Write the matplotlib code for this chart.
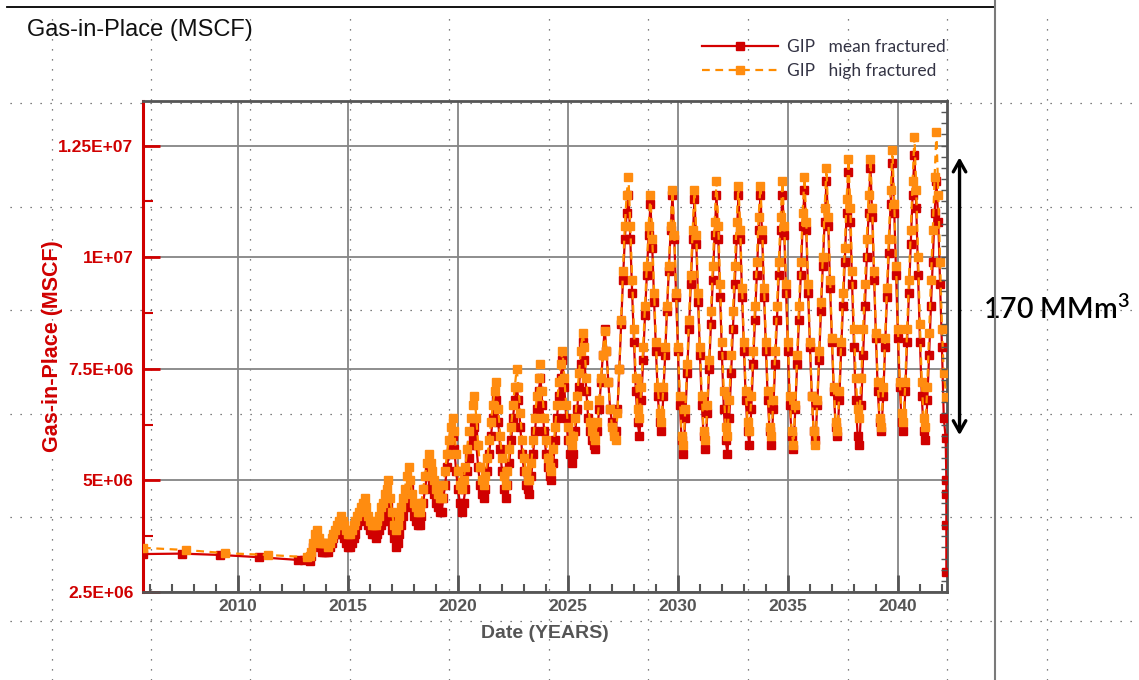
import numpy as np
import matplotlib
matplotlib.use('Agg')
import matplotlib.pyplot as plt
from matplotlib.lines import Line2D
from matplotlib.ticker import MultipleLocator, FuncFormatter

plt.rcParams['font.family'] = ['Liberation Sans', 'DejaVu Sans']
plt.rcParams['font.weight'] = 'bold'

# gas in place, million MSCF, decimal years
# sparse start of both runs
mean_early_t = [2005.68, 2007.45, 2009.18, 2010.95, 2012.73, 2013.0]
mean_early_v = [3.35, 3.36, 3.33, 3.28, 3.22, 3.21]
high_early_t = [2005.68, 2007.64, 2009.41, 2011.36, 2013.14]
high_early_v = [3.49, 3.44, 3.37, 3.33, 3.28]

# monthly values from Apr 2013 to Feb 2042
monthly_start = 2013.25
mean_monthly = [
    3.2, 3.3, 3.5, 3.6, 3.7, 3.6, 3.5, 3.4, 3.4,
    3.4, 3.4, 3.5, 3.6, 3.7, 3.8, 3.8, 3.9, 3.9, 3.8, 3.7, 3.6,
    3.5, 3.5, 3.6, 3.7, 3.8, 4.0, 4.1, 4.2, 4.3, 4.4, 4.2, 4.0,
    3.9, 3.8, 3.8, 3.7, 3.8, 3.9, 4.0, 4.1, 4.2, 4.3, 4.4, 4.1,
    3.9, 3.7, 3.5, 3.6, 3.8, 4.0, 4.2, 4.4, 4.6, 4.8, 4.6, 4.4,
    4.2, 4.1, 4.0, 4.0, 4.2, 4.5, 4.8, 5.1, 5.3, 5.1, 4.9, 4.7,
    4.5, 4.4, 4.3, 4.3, 4.6, 4.9, 5.3, 5.6, 5.8, 6.0, 5.7, 5.2,
    4.8, 4.5, 4.3, 4.5, 4.8, 5.2, 5.5, 5.8, 6.0, 6.2, 5.8, 5.3,
    4.9, 4.7, 4.6, 4.8, 5.2, 5.6, 6.0, 6.4, 6.7, 6.8, 6.3, 5.7,
    5.2, 4.8, 4.6, 4.9, 5.4, 5.9, 6.4, 6.8, 7.1, 6.8, 6.2, 5.6,
    5.2, 4.9, 4.8, 4.7, 5.1, 5.6, 6.1, 6.6, 7.0, 7.3, 6.7, 6.1,
    5.6, 5.3, 5.1, 5.0, 5.4, 5.9, 6.4, 6.9, 7.3, 7.7, 7.1, 6.4,
    5.9, 5.6, 5.4, 5.6, 6.1, 6.6, 7.1, 7.6, 8.1, 7.7, 7.0, 6.4,
    6.1, 5.9, 5.8, 5.7, 6.1, 6.6, 7.2, 7.8, 8.4, 7.9, 7.2, 6.6,
    6.3, 6.1, 6.1, 6.6, 7.5, 8.5, 9.5, 10.4, 11.0, 11.4, 10.4, 9.2,
    8.1, 7.0, 6.3, 6.0, 6.8, 7.7, 8.7, 9.6, 10.5, 11.2, 10.2, 9.0,
    7.9, 6.9, 6.3, 6.1, 6.9, 7.8, 8.8, 9.7, 10.6, 11.4, 10.4, 9.1,
    7.9, 6.7, 5.9, 5.6, 6.4, 7.4, 8.4, 9.4, 10.4, 11.3, 10.3, 9.0,
    7.8, 6.7, 6.0, 5.7, 6.5, 7.5, 8.5, 9.5, 10.5, 11.4, 10.4, 9.1,
    7.8, 6.6, 5.9, 5.6, 6.4, 7.4, 8.4, 9.4, 10.4, 11.4, 10.4, 9.1,
    7.9, 6.8, 6.1, 5.8, 6.6, 7.6, 8.6, 9.6, 10.6, 11.4, 10.4, 9.1,
    7.9, 6.8, 6.1, 5.8, 6.6, 7.6, 8.6, 9.6, 10.6, 11.4, 10.5, 9.2,
    7.9, 6.7, 6.0, 5.7, 6.6, 7.6, 8.6, 9.6, 10.7, 11.5, 10.6, 9.2,
    8.0, 6.9, 6.1, 5.9, 6.7, 7.7, 8.8, 9.8, 10.8, 11.7, 10.7, 9.3,
    8.1, 7.0, 6.2, 6.0, 6.8, 7.9, 8.9, 9.9, 11.0, 11.9, 10.8, 9.4,
    8.0, 6.8, 6.0, 5.8, 6.7, 7.8, 8.9, 10.0, 11.0, 12.0, 10.9, 9.5,
    8.2, 7.0, 6.3, 6.1, 6.9, 8.0, 9.1, 10.1, 11.2, 12.1, 11.0, 9.6,
    8.2, 7.1, 6.3, 6.1, 7.0, 8.1, 9.2, 10.3, 11.4, 12.3, 11.1, 9.6,
    8.1, 6.9, 6.1, 5.9, 6.8, 7.8, 8.9, 9.9, 11.0, 11.7, 10.8, 9.4,
    8.0, 6.4,
]
high_monthly = [
    3.3, 3.4, 3.6, 3.8, 3.9, 3.7, 3.6, 3.6, 3.6,
    3.6, 3.5, 3.6, 3.7, 3.8, 3.9, 4.0, 4.1, 4.2, 4.1, 4.0, 3.9,
    3.8, 3.8, 3.9, 4.0, 4.1, 4.2, 4.3, 4.4, 4.5, 4.6, 4.4, 4.2,
    4.1, 4.0, 4.0, 4.0, 4.1, 4.2, 4.4, 4.5, 4.7, 4.8, 5.0, 4.6,
    4.3, 4.0, 3.9, 4.0, 4.2, 4.4, 4.6, 4.8, 5.1, 5.3, 5.0, 4.7,
    4.5, 4.4, 4.3, 4.3, 4.5, 4.8, 5.1, 5.4, 5.6, 5.4, 5.2, 5.0,
    4.8, 4.7, 4.6, 4.6, 4.9, 5.2, 5.6, 5.9, 6.2, 6.4, 6.1, 5.6,
    5.2, 4.9, 4.8, 5.0, 5.3, 5.7, 6.1, 6.4, 6.7, 6.9, 6.4, 5.8,
    5.3, 5.0, 4.9, 5.1, 5.5, 5.9, 6.3, 6.7, 7.0, 7.2, 6.6, 6.0,
    5.5, 5.1, 4.9, 5.2, 5.7, 6.2, 6.7, 7.1, 7.5, 7.1, 6.5, 5.9,
    5.5, 5.2, 5.0, 5.0, 5.4, 5.9, 6.4, 6.9, 7.3, 7.6, 7.0, 6.4,
    5.9, 5.5, 5.3, 5.2, 5.7, 6.2, 6.7, 7.2, 7.6, 7.9, 7.3, 6.7,
    6.2, 5.9, 5.8, 6.0, 6.4, 6.9, 7.4, 7.9, 8.3, 8.0, 7.3, 6.7,
    6.3, 6.1, 6.0, 5.9, 6.3, 6.8, 7.3, 7.8, 8.35, 7.9, 7.2, 6.6,
    6.2, 6.0, 5.9, 6.5, 7.5, 8.6, 9.7, 10.7, 11.4, 11.8, 10.7, 9.5,
    8.4, 7.3, 6.6, 6.4, 7.1, 8.0, 8.9, 9.8, 10.7, 11.4, 10.4, 9.2,
    8.1, 7.1, 6.5, 6.3, 7.1, 8.0, 8.9, 9.8, 10.7, 11.5, 10.5, 9.2,
    8.0, 6.9, 6.0, 5.8, 6.6, 7.6, 8.6, 9.6, 10.6, 11.5, 10.5, 9.2,
    8.0, 6.9, 6.1, 5.9, 6.7, 7.7, 8.8, 9.8, 10.8, 11.7, 10.7, 9.4,
    8.1, 7.0, 6.2, 6.0, 6.8, 7.8, 8.8, 9.8, 10.8, 11.6, 10.6, 9.3,
    8.1, 7.0, 6.3, 6.1, 6.9, 7.9, 8.9, 9.9, 10.9, 11.6, 10.6, 9.3,
    8.1, 7.0, 6.2, 6.0, 6.8, 7.9, 8.9, 9.9, 10.9, 11.7, 10.7, 9.4,
    8.1, 6.9, 6.1, 5.8, 6.7, 7.8, 8.9, 9.9, 11.0, 11.8, 10.8, 9.4,
    8.1, 6.9, 6.1, 5.8, 6.8, 7.9, 9.0, 10.0, 11.1, 12.0, 10.9, 9.5,
    8.2, 7.1, 6.3, 6.1, 7.0, 8.1, 9.2, 10.2, 11.3, 12.2, 11.1, 9.7,
    8.4, 7.3, 6.6, 6.4, 7.3, 8.4, 9.4, 10.4, 11.4, 12.2, 11.1, 9.7,
    8.3, 7.2, 6.4, 6.2, 7.1, 8.2, 9.3, 10.4, 11.5, 12.4, 11.2, 9.8,
    8.4, 7.2, 6.5, 6.3, 7.2, 8.4, 9.5, 10.6, 11.7, 12.7, 11.5, 10.0,
    8.5, 7.2, 6.4, 6.2, 7.1, 8.3, 9.5, 10.6, 11.8, 12.8, 11.4, 9.9,
    8.4, 7.4,
]

# abrupt end of the runs
mean_tail_t = [2042.17, 2042.2, 2042.2, 2042.2, 2042.2]
mean_tail_v = [5.95, 5.0, 4.7, 4.0, 2.95]
high_tail_t = [2042.2]
high_tail_v = [6.87]

labels = ['GIP   mean fractured', 'GIP   high fractured']
ytick_vals = [2.5e6, 5e6, 7.5e6, 1e7, 1.25e7]

W, H = 1139, 680
fig = plt.figure(figsize=(W / 100, H / 100), dpi=100)

# slide background: dotted guide grid, frame lines
for gx in [52, 151, 250, 350, 449, 549, 648, 748, 848, 947, 1047]:
    fig.add_artist(Line2D([gx / W, gx / W], [0, 1 - 10 / H], color='#555555',
                          lw=0.9, ls=(0, (1, 7)), zorder=0))
for gy in [103, 207, 310, 414, 517, 621]:
    fig.add_artist(Line2D([10 / W, 1], [1 - gy / H, 1 - gy / H], color='#555555',
                          lw=0.9, ls=(0, (1, 7)), zorder=0))
fig.add_artist(Line2D([7 / W, 995 / W], [1 - 7 / H, 1 - 7 / H], color='black', lw=1.3))
fig.add_artist(Line2D([995 / W, 995 / W], [0, 1], color='#7a7a7a', lw=1.5))

ax = fig.add_axes([143 / W, 88 / H, 804 / W, 491 / H])
ax.patch.set_alpha(0)

mean_t = np.concatenate([mean_early_t,
                         monthly_start + np.arange(len(mean_monthly)) / 12.0,
                         mean_tail_t])
mean_v = np.concatenate([mean_early_v, mean_monthly, mean_tail_v]) * 1e6
high_t = np.concatenate([high_early_t,
                         monthly_start + np.arange(len(high_monthly)) / 12.0,
                         high_tail_t])
high_v = np.concatenate([high_early_v, high_monthly, high_tail_v]) * 1e6

ax.plot(mean_t, mean_v, color='#d40000', lw=1.6, marker='s', ms=5.5,
        mfc='#d00000', mec='#d00000', label=labels[0], zorder=3)
ax.plot(high_t, high_v, color='#ff8c00', lw=1.6, ls=(0, (3.5, 2.5)), marker='s',
        ms=6, mfc='#ff8c10', mec='#ff8c10', label=labels[1], zorder=4)

ax.set_xlim(2005.68, 2042.23)
ax.set_ylim(2.5e6, 13.5e6)
ax.xaxis.set_major_locator(MultipleLocator(5))
ax.xaxis.set_minor_locator(MultipleLocator(1))
ax.set_yticks(ytick_vals)
ax.yaxis.set_minor_locator(MultipleLocator(1.25e6))
ax.yaxis.set_major_formatter(FuncFormatter(lambda v, p: '{:G}'.format(v)))

ax.grid(which='major', color='#858585', lw=1.3, zorder=1)
ax.tick_params(axis='y', which='major', direction='in', length=12, width=2,
               colors='#d00000', labelsize=12.5, pad=7)
ax.tick_params(axis='y', which='minor', direction='in', length=7, width=1.5,
               colors='#d00000')
ax.tick_params(axis='x', which='major', direction='in', length=12, width=2,
               colors='#555555', labelsize=12.5, pad=5)
ax.tick_params(axis='x', which='minor', direction='in', length=6, width=1.5,
               colors='#555555')

for side in ['top', 'right', 'bottom']:
    ax.spines[side].set_color('#555555')
    ax.spines[side].set_linewidth(2)
ax.spines['left'].set_color('#d00000')
ax.spines['left'].set_linewidth(2.2)

# small ticks on the right frame
ax2 = ax.twinx()
ax2.set_ylim(ax.get_ylim())
ax2.yaxis.set_major_locator(MultipleLocator(0.25e6))
ax2.tick_params(axis='y', direction='in', length=4, width=1, colors='#555555',
                labelright=False)
for s in ax2.spines.values():
    s.set_visible(False)

ax.set_xlabel('Date (YEARS)', fontsize=14, color='#555555', va='top',
              fontweight='bold')
ax.xaxis.set_label_coords(0.5, -0.067)
ax.set_ylabel('Gas-in-Place (MSCF)', fontsize=15.5, color='#d00000',
              fontweight='bold')
ax.yaxis.set_label_coords(-0.0995, 0.5)

fig.text(27 / W, 1 - 30 / H, 'Gas-in-Place (MSCF)', fontsize=17, weight='normal',
         va='center', ha='left', color='#111111')

ax.legend(loc='upper left', bbox_to_anchor=(702 / W, 1 - 39 / H),
          bbox_transform=fig.transFigure, frameon=False, handlelength=4.4,
          handletextpad=0.5, labelspacing=0.45, borderpad=0, borderaxespad=0,
          prop={'family': 'Lato', 'size': 12.5, 'weight': 'normal'},
          labelcolor='#333344')

# working gas range annotation
ax.annotate('', xy=(2042.8, 12.3e6), xytext=(2042.8, 5.95e6),
            arrowprops=dict(arrowstyle='<->, head_length=0.8, head_width=0.45',
                            lw=2.4, color='black'),
            annotation_clip=False)
ax.text(2043.86, 8.85e6, r'170 MMm$^{\mathregular{3}}$', family='Lato',
        fontsize=20.5, weight='semibold', va='center', ha='left', color='black',
        clip_on=False)

fig.savefig('out.png', dpi=100)
